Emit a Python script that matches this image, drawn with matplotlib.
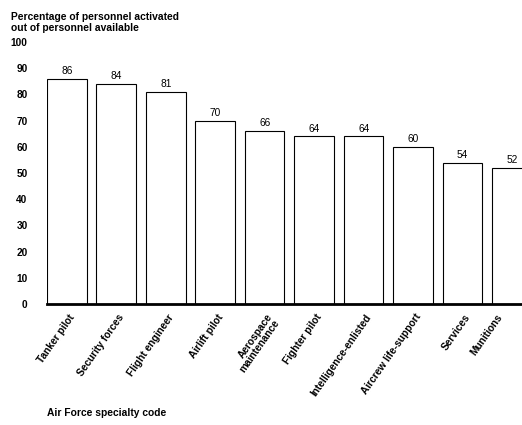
import matplotlib.pyplot as plt
import numpy as np

specialties = ["Tanker pilot", "Security forces", "Flight engineer", "Airlift pilot",
               "Aerospace\nmaintenance", "Fighter pilot", "Intelligence-enlisted",
               "Aircrew life-support", "Services", "Munitions"]
percent = [86, 84, 81, 70, 66, 64, 64, 60, 54, 52]
yticks = [0, 10, 20, 30, 40, 50, 60, 70, 80, 90, 100]

plt.rcParams['font.family'] = ['Liberation Sans', 'DejaVu Sans']

fig = plt.figure(figsize=(5.22, 4.25), dpi=100)
ax = fig.add_axes([0.09, 0.285, 0.91, 0.616])

x = np.arange(len(percent))
ax.bar(x, percent, width=0.80, color='white', edgecolor='black', linewidth=0.8)
for xi, v in zip(x, percent):
    ax.text(xi, v + 1.0, str(v), ha='center', va='bottom', fontsize=7.3)

ax.set_xlim(-0.40, 9.2)
ax.set_ylim(0, 100)
ax.set_yticks(yticks)
ax.set_yticklabels([str(t) for t in yticks], fontsize=7.3, fontweight='bold')
ax.tick_params(axis='y', length=0, pad=14)
# last label sits further left so it stays inside the page
offsets = np.full(len(percent), 0.03)
offsets[-1] = -0.32
ax.set_xticks(x + offsets)
ax.set_xticklabels(specialties, rotation=55, ha='right', rotation_mode='anchor',
                   fontsize=7.3, fontweight='bold', linespacing=0.9)
ax.tick_params(axis='x', length=0, pad=6)

for s in ['top', 'right', 'left']:
    ax.spines[s].set_visible(False)
ax.spines['bottom'].set_linewidth(2)

fig.text(0.022, 0.972, "Percentage of personnel activated\nout of personnel available",
         ha='left', va='top', fontsize=7.4, fontweight='bold', linespacing=1.15)
fig.text(0.09, 0.028, "Air Force specialty code", ha='left', va='center',
         fontsize=7.4, fontweight='bold')

fig.savefig("out.png", dpi=100)
